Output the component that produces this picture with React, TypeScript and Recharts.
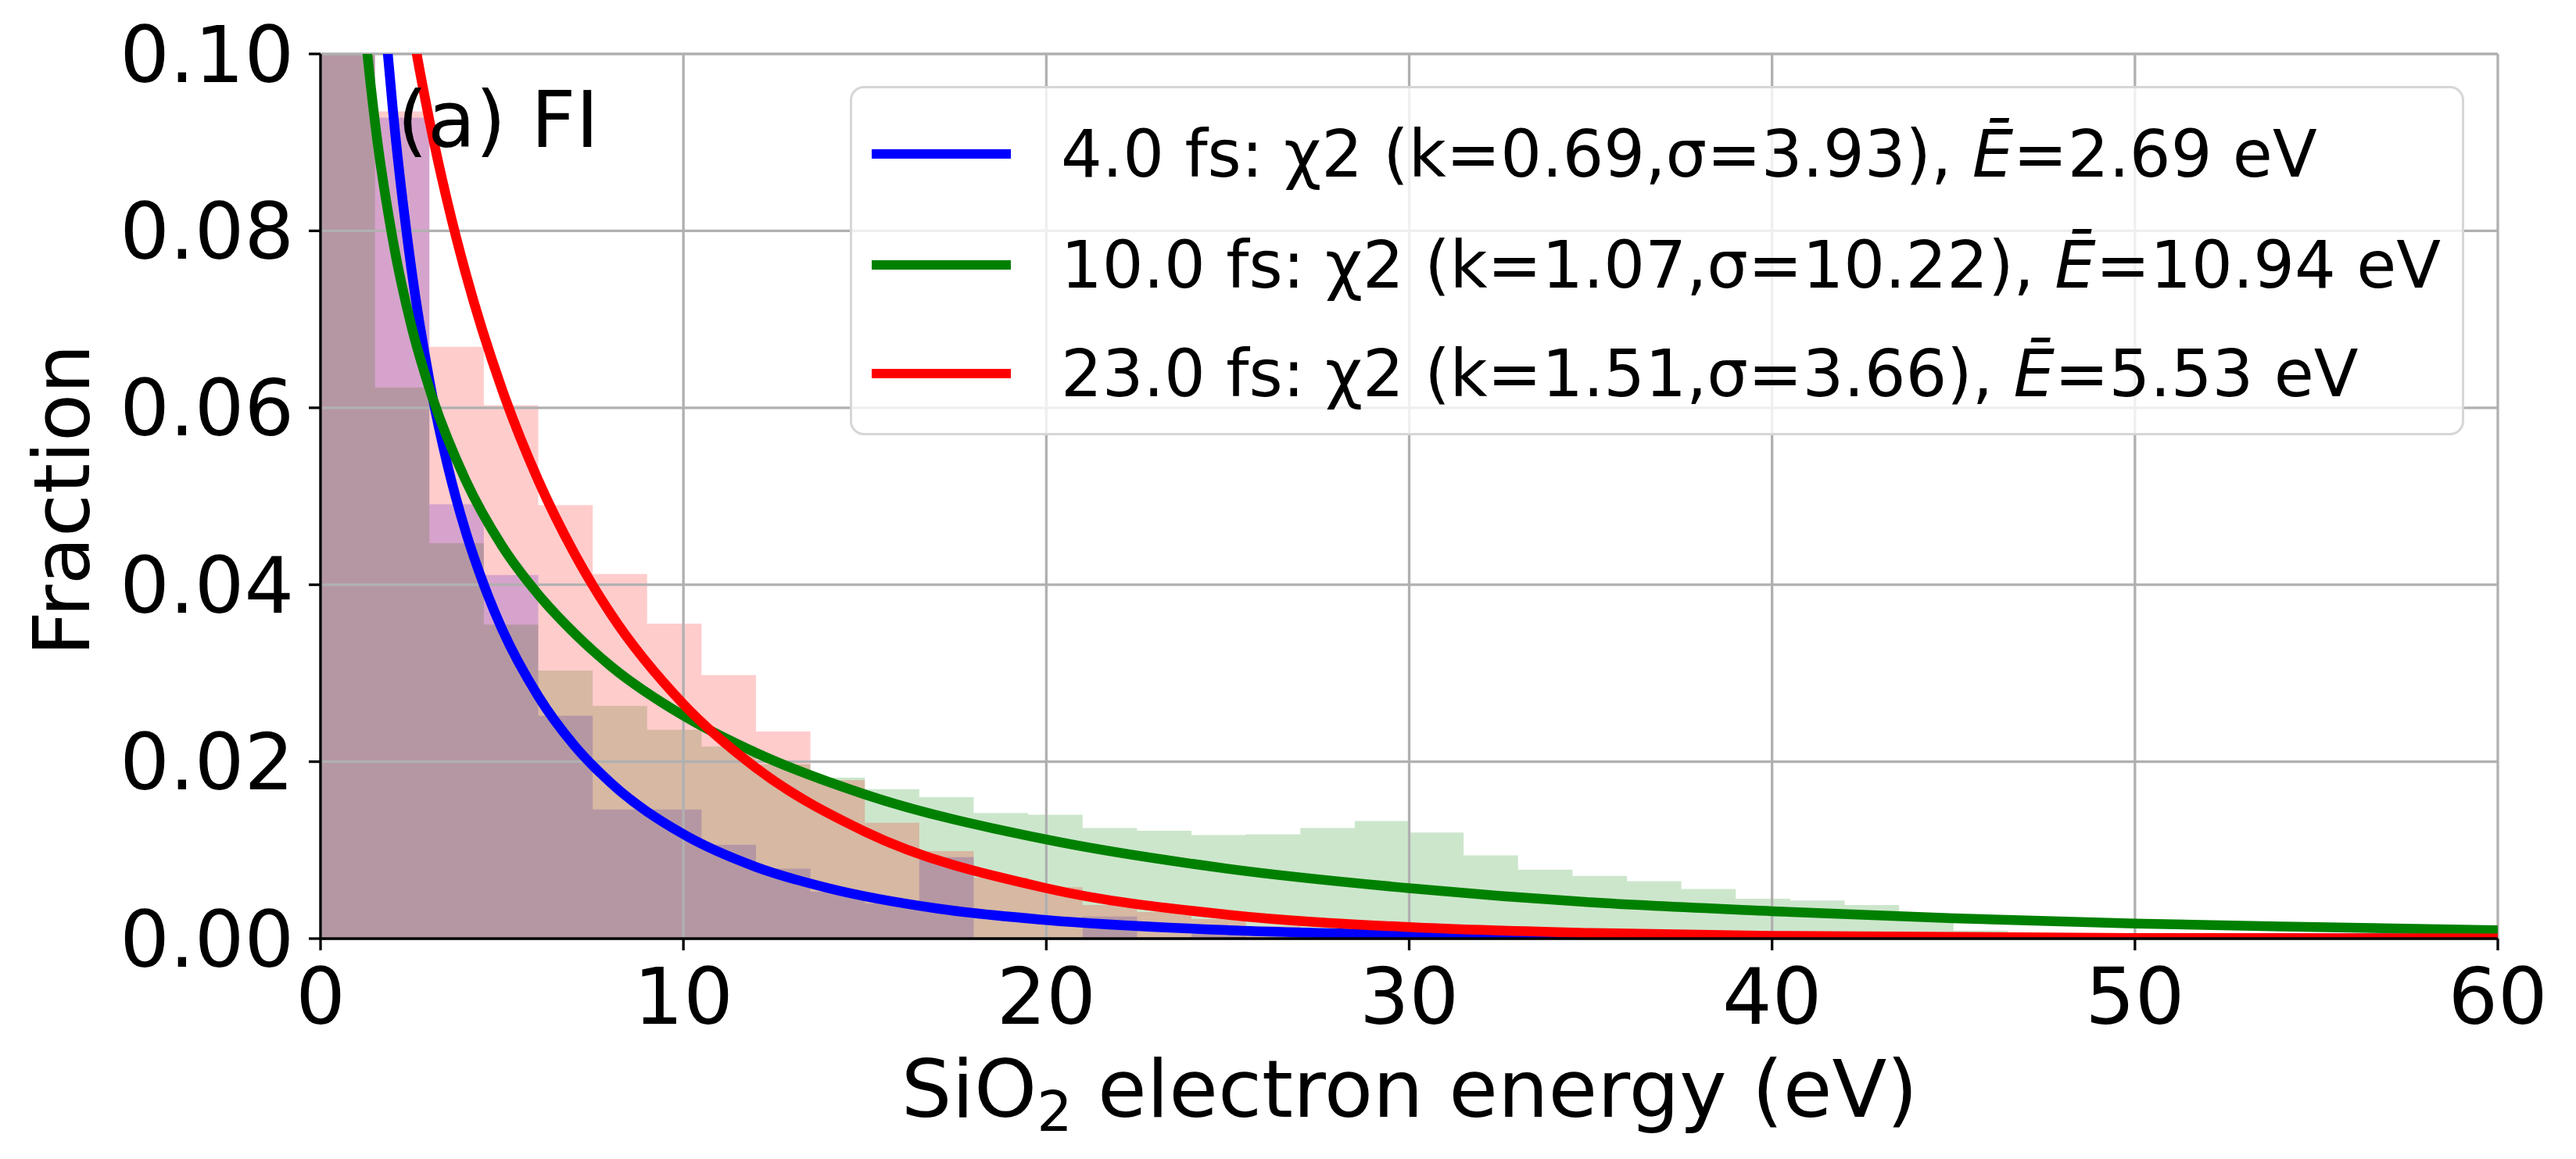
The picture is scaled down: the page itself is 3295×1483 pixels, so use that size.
import React from 'react';
import {
  ComposedChart,
  Area,
  Line,
  XAxis,
  YAxis,
  ReferenceLine,
} from 'recharts';

// histogram bin edges (eV), 1.5 eV bins
const BIN_EDGES = [
  0, 1.5, 3, 4.5, 6, 7.5, 9, 10.5, 12, 13.5, 15, 16.5, 18, 19.5, 21, 22.5, 24, 25.5, 27, 28.5,
  30, 31.5, 33, 34.5, 36, 37.5, 39, 40.5, 42, 43.5, 45, 46.5, 48, 49.5, 51, 52.5, 54, 55.5, 57, 58.5, 60,
];

// fraction per bin
const HIST_4FS = [
  0.21, 0.0928, 0.0491, 0.0411, 0.0252, 0.0146, 0.0146, 0.0106, 0.0079, 0.0053, 0.004, 0.0092, 0, 0,
  0.0025, 0, 0.0005, 0, 0, 0, 0, 0, 0, 0, 0, 0, 0, 0, 0, 0, 0, 0, 0, 0, 0, 0, 0, 0, 0, 0,
];
const HIST_10FS = [
  0.19, 0.0623, 0.0447, 0.0355, 0.0303, 0.0263, 0.0236, 0.0217, 0.0197, 0.0182, 0.0169, 0.016, 0.0142,
  0.014, 0.0125, 0.0122, 0.0117, 0.0118, 0.0125, 0.0133, 0.012, 0.0094, 0.0078, 0.0071, 0.0065, 0.0056,
  0.0045, 0.0043, 0.0038, 0.0028, 0.0009, 0, 0, 0, 0, 0, 0, 0, 0, 0,
];
const HIST_23FS = [
  0.16, 0.0935, 0.0669, 0.0603, 0.049, 0.0412, 0.0356, 0.0298, 0.0234, 0.0179, 0.0131, 0.0099, 0.0069,
  0.0058, 0.0038, 0.003, 0.0022, 0.0014, 0.001, 0.0008, 0.0006, 0.0005, 0.0004, 0.0003, 0.0003, 0.0002,
  0.0002, 0.0001, 0.0001, 0.0001, 0, 0, 0, 0, 0, 0, 0, 0, 0, 0,
];

// fitted chi2 curves, sampled along the drawn lines
const FIT_4FS_X = [1.5, 1.85, 2, 2.5, 3, 3.5, 4, 4.5, 5, 6, 7, 8, 10, 12, 14, 17, 20, 25, 30, 35, 40, 50, 60];
const FIT_4FS_Y = [
  0.1202, 0.1002, 0.0934, 0.0758, 0.0631, 0.0535, 0.046, 0.04, 0.035, 0.0274, 0.0218, 0.0176, 0.0118,
  0.0081, 0.0057, 0.0034, 0.0021, 0.00096, 0.00045, 0.00022, 0.0001, 0.000025, 0.000006,
];
const FIT_10FS_X = [1.0, 1.26, 1.5, 2, 2.5, 3, 4, 5, 6, 7, 8, 10, 12, 15, 20, 25, 30, 35, 40, 45, 50, 55, 60];
const FIT_10FS_Y = [
  0.1142, 0.1013, 0.0923, 0.0788, 0.0693, 0.0622, 0.0518, 0.0444, 0.0389, 0.0345, 0.0308, 0.0252, 0.021,
  0.0163, 0.0112, 0.0079, 0.0057, 0.0041, 0.0031, 0.0023, 0.0017, 0.0013, 0.00095,
];
const FIT_23FS_X = [2.2, 2.62, 3, 3.5, 4, 5, 6, 7, 8, 10, 12, 15, 20, 25, 30, 35, 40, 50, 60];
const FIT_23FS_Y = [
  0.1113, 0.1007, 0.0925, 0.0832, 0.0752, 0.0621, 0.0518, 0.0435, 0.0367, 0.0265, 0.0193, 0.0121, 0.0057,
  0.0027, 0.0013, 0.00064, 0.00031, 0.000076, 0.000018,
];

const TIMES = ['4.0', '10.0', '23.0'];
const FIT_K = ['0.69', '1.07', '1.51'];
const FIT_SIGMA = ['3.93', '10.22', '3.66'];
const MEAN_E = ['2.69', '10.94', '5.53'];
const COLORS = ['#0000ff', '#008000', '#ff0000'];

const X_TICKS = [0, 10, 20, 30, 40, 50, 60];
const Y_TICKS = [0, 0.02, 0.04, 0.06, 0.08, 0.1];

const FONT = '"DejaVu Sans", sans-serif';

function histData(vals: number[]) {
  return BIN_EDGES.map((x, i) => ({ x, y: vals[Math.min(i, vals.length - 1)] }));
}

function fitData(xs: number[], ys: number[]) {
  return xs.map((x, i) => ({ x, y: ys[i] }));
}

const HISTS = [HIST_4FS, HIST_10FS, HIST_23FS].map(histData);
const FITS = [
  fitData(FIT_4FS_X, FIT_4FS_Y),
  fitData(FIT_10FS_X, FIT_10FS_Y),
  fitData(FIT_23FS_X, FIT_23FS_Y),
];

const tickStyle = { fontSize: 100, fill: '#000', fontFamily: FONT };

function FitLegend() {
  return (
    <div
      style={{
        position: 'absolute',
        left: 1087,
        top: 110,
        width: 2065,
        height: 447,
        boxSizing: 'border-box',
        border: '3px solid #d6d6d6',
        borderRadius: 18,
        background: 'rgba(255,255,255,0.8)',
        fontFamily: FONT,
        fontSize: 83,
        color: '#000',
      }}
    >
      {TIMES.map((t, i) => (
        <div
          key={t}
          style={{
            position: 'absolute',
            left: 0,
            top: [84, 226, 365][i] - 50,
            height: 100,
            display: 'flex',
            alignItems: 'center',
            whiteSpace: 'nowrap',
          }}
        >
          <div style={{ marginLeft: 25, width: 178, height: 12, background: COLORS[i] }} />
          <span style={{ marginLeft: 64 }}>
            {t} fs: χ2 (k={FIT_K[i]},σ={FIT_SIGMA[i]}),{' '}
            <span style={{ fontStyle: 'italic' }}>E&#772;</span>={MEAN_E[i]} eV
          </span>
        </div>
      ))}
    </div>
  );
}

export default function App() {
  return (
    <div
      style={{
        position: 'absolute',
        left: 0,
        top: 0,
        width: 3295,
        height: 1483,
        background: '#fff',
        fontFamily: FONT,
      }}
    >
      <ComposedChart width={3295} height={1483} margin={{ top: 69, right: 100, bottom: 182, left: 10 }}>
        <XAxis
          dataKey="x"
          type="number"
          domain={[0, 60]}
          ticks={X_TICKS}
          allowDataOverflow
          height={100}
          tickSize={15}
          tickMargin={23}
          tick={tickStyle}
          axisLine={{ stroke: '#000', strokeWidth: 3.3 }}
          tickLine={{ stroke: '#000', strokeWidth: 3.3 }}
        />
        <XAxis
          xAxisId="top"
          orientation="top"
          dataKey="x"
          type="number"
          domain={[0, 60]}
          height={0}
          tick={false}
          tickLine={false}
          axisLine={{ stroke: '#000', strokeWidth: 3.3 }}
        />
        <YAxis
          type="number"
          domain={[0, 0.1]}
          ticks={Y_TICKS}
          allowDataOverflow
          width={400}
          tickSize={15}
          tickMargin={19}
          tick={tickStyle}
          tickFormatter={(v: number) => v.toFixed(2)}
          axisLine={{ stroke: '#000', strokeWidth: 3.3 }}
          tickLine={{ stroke: '#000', strokeWidth: 3.3 }}
        />
        <YAxis
          yAxisId="right"
          orientation="right"
          type="number"
          domain={[0, 0.1]}
          width={0}
          tick={false}
          tickLine={false}
          axisLine={{ stroke: '#000', strokeWidth: 3.3 }}
        />
        {HISTS.map((d, i) => (
          <Area
            key={'h' + i}
            data={d}
            dataKey="y"
            type="stepAfter"
            fill={COLORS[i]}
            fillOpacity={0.2}
            stroke="none"
            dot={false}
            activeDot={false}
            isAnimationActive={false}
          />
        ))}
        {X_TICKS.map((v) => (
          <ReferenceLine key={'gx' + v} x={v} stroke="#b0b0b0" strokeWidth={3.3} zIndex={150} />
        ))}
        {Y_TICKS.map((v) => (
          <ReferenceLine key={'gy' + v} y={v} stroke="#b0b0b0" strokeWidth={3.3} zIndex={150} />
        ))}
        {FITS.map((d, i) => (
          <Line
            key={'f' + i}
            data={d}
            dataKey="y"
            type="monotone"
            stroke={COLORS[i]}
            strokeWidth={12.5}
            dot={false}
            activeDot={false}
            isAnimationActive={false}
          />
        ))}
      </ComposedChart>

      <div style={{ position: 'absolute', left: 508, top: 104, fontSize: 100, lineHeight: '100px', whiteSpace: 'nowrap' }}>
        (a) FI
      </div>

      <div
        style={{
          position: 'absolute',
          left: 80,
          top: 640,
          fontSize: 100,
          lineHeight: '100px',
          whiteSpace: 'nowrap',
          transform: 'translate(-50%, -50%) rotate(-90deg)',
        }}
      >
        Fraction
      </div>

      <div
        style={{
          position: 'absolute',
          left: 1803,
          top: 1344,
          fontSize: 102,
          lineHeight: '100px',
          whiteSpace: 'nowrap',
          transform: 'translateX(-50%)',
        }}
      >
        SiO<span style={{ fontSize: '0.7em', position: 'relative', top: 18 }}>2</span> electron energy (eV)
      </div>

      <FitLegend />
    </div>
  );
}
